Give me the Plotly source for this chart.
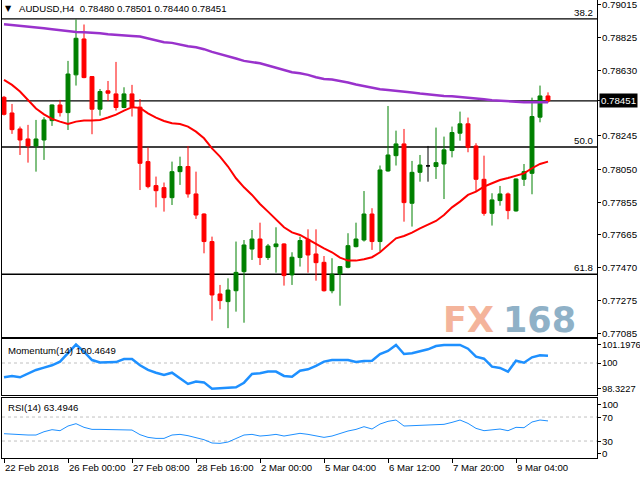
import plotly.graph_objects as go

# ---------------- data ----------------
symbol = "AUDUSD"
timeframe = "H4"

opens = [0.78472, 0.78380, 0.78286, 0.78227, 0.78186, 0.78221, 0.78335, 0.78427, 0.78382, 0.78604,
         0.78815, 0.78594, 0.78402, 0.78510, 0.78492, 0.78412, 0.78492, 0.78414, 0.78094, 0.77953,
         0.77941, 0.77882, 0.78035, 0.78065, 0.77904, 0.77786, 0.77624, 0.77316, 0.77271, 0.77335,
         0.77447, 0.77580, 0.77639, 0.77530, 0.77594, 0.77610, 0.77428, 0.77530, 0.77637, 0.77551,
         0.77502, 0.77335, 0.77434, 0.77473, 0.77594, 0.77633, 0.77786, 0.77624, 0.78039, 0.78129,
         0.78198, 0.77849, 0.78031, 0.78069, 0.78065, 0.78080, 0.78159, 0.78261, 0.78316, 0.78186,
         0.77990, 0.77790, 0.77865, 0.77904, 0.77804, 0.77990, 0.78025, 0.78355, 0.78480]
highs = [0.78480, 0.78433, 0.78300, 0.78310, 0.78339, 0.78355, 0.78430, 0.78457, 0.78686, 0.78930,
         0.78900, 0.78596, 0.78521, 0.78568, 0.78680, 0.78531, 0.78545, 0.78462, 0.78178, 0.78006,
         0.77971, 0.78094, 0.78123, 0.78186, 0.78035, 0.77790, 0.77653, 0.77369, 0.77408, 0.77624,
         0.77633, 0.77692, 0.77735, 0.77610, 0.77708, 0.77614, 0.77561, 0.77653, 0.77696, 0.77696,
         0.77539, 0.77526, 0.77480, 0.77673, 0.77735, 0.77921, 0.77820, 0.78071, 0.78421, 0.78276,
         0.78286, 0.78098, 0.78133, 0.78186, 0.78294, 0.78241, 0.78300, 0.78388, 0.78353, 0.78202,
         0.78129, 0.77908, 0.77951, 0.77912, 0.77995, 0.78080, 0.78470, 0.78541, 0.78501]
lows = [0.78365, 0.78257, 0.78133, 0.78088, 0.78035, 0.78104, 0.78304, 0.78359, 0.78280, 0.78541,
        0.78584, 0.78255, 0.78364, 0.78451, 0.78394, 0.78408, 0.78359, 0.77927, 0.77937, 0.77825,
        0.77800, 0.77839, 0.77957, 0.77882, 0.77757, 0.77555, 0.77159, 0.77226, 0.77115, 0.77212,
        0.77147, 0.77516, 0.77486, 0.77516, 0.77441, 0.77365, 0.77369, 0.77477, 0.77441, 0.77394,
        0.77330, 0.77320, 0.77247, 0.77467, 0.77590, 0.77624, 0.77575, 0.77565, 0.78035, 0.78071,
        0.77741, 0.77712, 0.77976, 0.77976, 0.77992, 0.77874, 0.78119, 0.78217, 0.78149, 0.77918,
        0.77776, 0.77718, 0.77835, 0.77755, 0.77800, 0.77951, 0.77902, 0.78325, 0.78440]
closes = [0.78372, 0.78282, 0.78221, 0.78186, 0.78227, 0.78339, 0.78427, 0.78382, 0.78609, 0.78819,
          0.78588, 0.78402, 0.78506, 0.78496, 0.78412, 0.78492, 0.78414, 0.78084, 0.77947, 0.77923,
          0.77882, 0.78035, 0.78065, 0.77904, 0.77780, 0.77624, 0.77310, 0.77277, 0.77339, 0.77443,
          0.77604, 0.77639, 0.77530, 0.77598, 0.77610, 0.77424, 0.77532, 0.77630, 0.77545, 0.77500,
          0.77335, 0.77432, 0.77477, 0.77600, 0.77639, 0.77786, 0.77624, 0.78045, 0.78133, 0.78198,
          0.77853, 0.78031, 0.78074, 0.78069, 0.78088, 0.78163, 0.78265, 0.78316, 0.78178, 0.77990,
          0.77790, 0.77869, 0.77904, 0.77806, 0.77992, 0.78035, 0.78359, 0.78480, 0.78451]

ma_fast = [0.78574, 0.78545, 0.78506, 0.78457, 0.78406, 0.78372, 0.78345, 0.78329, 0.78315, 0.78329,
           0.78335, 0.78335, 0.78339, 0.78353, 0.78370, 0.78394, 0.78414, 0.78410, 0.78378, 0.78353,
           0.78333, 0.78319, 0.78315, 0.78300, 0.78270, 0.78231, 0.78172, 0.78123, 0.78065, 0.77996,
           0.77943, 0.77898, 0.77845, 0.77800, 0.77755, 0.77708, 0.77678, 0.77663, 0.77637, 0.77610,
           0.77584, 0.77561, 0.77530, 0.77512, 0.77512, 0.77520, 0.77532, 0.77561, 0.77604, 0.77643,
           0.77657, 0.77677, 0.77702, 0.77722, 0.77745, 0.77780, 0.77825, 0.77859, 0.77898, 0.77918,
           0.77947, 0.77967, 0.77986, 0.77998, 0.78012, 0.78025, 0.78055, 0.78080, 0.78094]
ma_slow = [0.78902, 0.78898, 0.78894, 0.78890, 0.78886, 0.78878, 0.78872, 0.78866, 0.78862, 0.78856,
           0.78854, 0.78852, 0.78849, 0.78843, 0.78841, 0.78837, 0.78833, 0.78829, 0.78819, 0.78809,
           0.78796, 0.78792, 0.78780, 0.78772, 0.78766, 0.78755, 0.78739, 0.78727, 0.78711, 0.78700,
           0.78686, 0.78680, 0.78672, 0.78659, 0.78647, 0.78633, 0.78619, 0.78613, 0.78604, 0.78590,
           0.78580, 0.78576, 0.78568, 0.78559, 0.78547, 0.78537, 0.78525, 0.78519, 0.78515, 0.78511,
           0.78506, 0.78500, 0.78494, 0.78488, 0.78484, 0.78480, 0.78478, 0.78474, 0.78472, 0.78466,
           0.78460, 0.78455, 0.78451, 0.78447, 0.78445, 0.78443, 0.78443, 0.78443, 0.78443]

momentum = [99.07, 99.16, 99.07, 99.29, 99.55, 99.70, 99.85, 100.09, 100.67, 101.1976,
            100.74, 100.19, 100.04, 100.04, 100.06, 100.26, 100.26, 99.85, 99.55, 99.37,
            99.22, 99.37, 99.00, 98.64, 98.79, 98.74, 98.3227, 98.36, 98.40, 98.42,
            98.72, 99.29, 99.33, 99.44, 99.44, 99.16, 99.11, 99.50, 99.59, 99.81,
            100.09, 100.19, 100.19, 100.19, 100.06, 100.13, 100.15, 100.58, 100.78, 101.17,
            100.58, 100.63, 100.76, 100.89, 101.10, 101.17, 101.17, 101.17, 100.93, 100.41,
            100.28, 99.76, 99.68, 99.44, 100.15, 100.02, 100.37, 100.50, 100.4649]
rsi = [42.2, 41.1, 40.0, 40.0, 40.0, 45.5, 48.9, 47.2, 55.0, 58.9,
       52.8, 49.4, 49.4, 49.4, 48.3, 49.4, 48.3, 40.6, 36.1, 34.4,
       34.4, 40.0, 41.1, 38.9, 35.6, 32.2, 26.7, 26.1, 28.3, 33.9,
       40.0, 41.1, 38.3, 39.4, 41.1, 38.3, 40.6, 42.8, 41.1, 38.3,
       36.1, 38.3, 42.8, 46.7, 49.4, 53.9, 50.0, 58.3, 62.8, 65.0,
       55.0, 55.6, 57.2, 57.2, 57.8, 57.8, 61.1, 65.0, 59.4, 51.1,
       47.2, 48.9, 50.0, 47.2, 52.8, 52.2, 61.7, 65.0, 63.4946]

fib_levels = [0.78933, 0.78180, 0.77432]
fib_labels = ["38.2", "50.0", "61.8"]
price_line = 0.78451

time_tick_bars = [0, 8, 16, 24, 32, 40, 48, 56, 64]
time_tick_labels = ["22 Feb 2018", "26 Feb 00:00", "27 Feb 08:00", "28 Feb 16:00", "2 Mar 00:00",
                    "5 Mar 04:00", "6 Mar 12:00", "7 Mar 20:00", "9 Mar 04:00"]
price_ticks = [0.79015, 0.78825, 0.78630, 0.78245, 0.78050, 0.77855, 0.77665, 0.77470, 0.77275, 0.77085]
mom_ticks = [101.1976, 100, 98.3227]
mom_tick_labels = ["101.1976", "100", "98.3227"]
rsi_ticks_pos = [91.7, 70, 30, 10]
rsi_ticks_txt = ["100", "70", "30", "0"]

# ---------------- figure ----------------
bars = list(range(len(opens)))
W, H = 640, 480
ML, MR, MT, MB = 2, 43, 0, 22
PW, PH = W - ML - MR, H - MT - MB


def px_x(px):
    return (px - ML) / PW


def px_y(py):
    return (H - MB - py) / PH


GREEN = "#008000"
RED = "#FF0000"
FONT = "Liberation Sans, Arial, sans-serif"
LABEL_SIZE = 9.6

normal = [i for i in bars if opens[i] != closes[i]]
doji = [i for i in bars if opens[i] == closes[i]]

fig = go.Figure()
fig.add_trace(go.Candlestick(
    x=[bars[i] for i in normal], open=[opens[i] for i in normal], high=[highs[i] for i in normal],
    low=[lows[i] for i in normal], close=[closes[i] for i in normal],
    increasing=dict(line=dict(color=GREEN, width=1), fillcolor=GREEN),
    decreasing=dict(line=dict(color=RED, width=1), fillcolor=RED),
    whiskerwidth=0, xaxis="x", yaxis="y", showlegend=False, hoverinfo="skip"))
if doji:
    fig.add_trace(go.Candlestick(
        x=[bars[i] for i in doji], open=[opens[i] for i in doji], high=[highs[i] for i in doji],
        low=[lows[i] for i in doji], close=[closes[i] for i in doji],
        increasing=dict(line=dict(color="black", width=1), fillcolor="black"),
        decreasing=dict(line=dict(color="black", width=1), fillcolor="black"),
        whiskerwidth=0, xaxis="x", yaxis="y", showlegend=False, hoverinfo="skip"))

fig.add_trace(go.Scatter(x=bars, y=ma_slow, mode="lines", line=dict(color="#9932CC", width=2.5),
                         xaxis="x", yaxis="y", showlegend=False, hoverinfo="skip"))
fig.add_trace(go.Scatter(x=bars, y=ma_fast, mode="lines", line=dict(color=RED, width=2),
                         xaxis="x", yaxis="y", showlegend=False, hoverinfo="skip"))
fig.add_trace(go.Scatter(x=bars, y=momentum, mode="lines", line=dict(color="#1E90FF", width=2.5),
                         xaxis="x2", yaxis="y2", showlegend=False, hoverinfo="skip"))
fig.add_trace(go.Scatter(x=bars, y=rsi, mode="lines", line=dict(color="#1E90FF", width=1),
                         xaxis="x3", yaxis="y3", showlegend=False, hoverinfo="skip"))

# horizontal levels
shapes = []
for lv in fib_levels + [price_line]:
    shapes.append(dict(type="line", xref="x domain", yref="y", x0=0, x1=1, y0=lv, y1=lv,
                       line=dict(color="black", width=1.3), layer="below"))
shapes.append(dict(type="line", xref="x2 domain", yref="y2", x0=0, x1=1, y0=100, y1=100,
                   line=dict(color="#C0C0C0", width=1, dash="3px,3px"), layer="below"))
for lv in (70, 30):
    shapes.append(dict(type="line", xref="x3 domain", yref="y3", x0=0, x1=1, y0=lv, y1=lv,
                       line=dict(color="#C0C0C0", width=1, dash="3px,3px"), layer="below"))

annotations = []


def right_label(yref, yval, text, size=9.7):
    annotations.append(dict(xref="paper", yref=yref, x=1.0, y=yval, xshift=3, text=text, showarrow=False,
                            xanchor="left", yanchor="middle",
                            font=dict(family=FONT, size=size, color="black")))


for v in price_ticks:
    right_label("y", v, f"{v:.5f}")
for v, t in zip(mom_ticks, mom_tick_labels):
    right_label("y2", v, t, size=9.3)
for v, t in zip(rsi_ticks_pos, rsi_ticks_txt):
    right_label("y3", v, t)

for lv, lab in zip(fib_levels, fib_labels):
    annotations.append(dict(xref="paper", yref="y", x=px_x(595), y=lv, text=lab, showarrow=False,
                            xanchor="right", yanchor="bottom", yshift=-1,
                            font=dict(family=FONT, size=9.7, color="black")))
# current price box
annotations.append(dict(xref="paper", yref="y", x=1.0, y=closes[-1], xshift=2, text=f"{closes[-1]:.5f}",
                        showarrow=False, xanchor="left", yanchor="middle", bgcolor="black",
                        borderpad=1, font=dict(family=FONT, size=9.7, color="white")))
# header
annotations.append(dict(xref="paper", yref="paper", x=px_x(8), y=px_y(9), text="▼", showarrow=False,
                        xanchor="center", yanchor="middle", font=dict(family="DejaVu Sans", size=8, color="black")))
header = f"{symbol},{timeframe}  {opens[-1]:.5f} {highs[-1]:.5f} {lows[-1]:.5f} {closes[-1]:.5f}"
annotations.append(dict(xref="paper", yref="paper", x=px_x(17), y=px_y(9), text=header, showarrow=False,
                        xanchor="left", yanchor="middle", font=dict(family=FONT, size=LABEL_SIZE, color="black")))
annotations.append(dict(xref="paper", yref="paper", x=px_x(6), y=px_y(350),
                        text=f"Momentum(14) {momentum[-1]:.4f}", showarrow=False,
                        xanchor="left", yanchor="middle", font=dict(family=FONT, size=LABEL_SIZE, color="black")))
annotations.append(dict(xref="paper", yref="paper", x=px_x(6), y=px_y(407),
                        text=f"RSI(14) {rsi[-1]:.4f}", showarrow=False,
                        xanchor="left", yanchor="middle", font=dict(family=FONT, size=LABEL_SIZE, color="black")))
# watermark
annotations.append(dict(xref="paper", yref="paper", x=px_x(468), y=px_y(320), text="FX", showarrow=False,
                        xanchor="center", yanchor="middle",
                        font=dict(family="DejaVu Sans", size=35, weight="bold", color="#F4B49B")))
annotations.append(dict(xref="paper", yref="paper", x=px_x(539), y=px_y(320), text="168", showarrow=False,
                        xanchor="center", yanchor="middle",
                        font=dict(family="DejaVu Sans", size=35, weight="bold", color="#8FB1C7")))

axis_common = dict(showgrid=False, zeroline=False, showline=True, mirror=True, linecolor="black",
                   linewidth=1, automargin=False)
xrange = [-0.25, 74.125]
yaxis_common = dict(side="right", tickmode="array", ticks="outside", ticklen=3, tickcolor="black",
                    showticklabels=False, **axis_common)

fig.update_layout(
    width=W, height=H,
    margin=dict(l=ML, r=MR, t=MT, b=MB, autoexpand=False),
    paper_bgcolor="white", plot_bgcolor="white",
    boxgap=0.3,
    shapes=shapes, annotations=annotations,
    xaxis=dict(domain=[0, 1], anchor="y", range=xrange, showticklabels=False, ticks="",
               rangeslider=dict(visible=False), **axis_common),
    xaxis2=dict(domain=[0, 1], anchor="y2", matches="x", range=xrange, showticklabels=False, ticks="",
                **axis_common),
    xaxis3=dict(domain=[0, 1], anchor="y3", matches="x", range=xrange, tickmode="array",
                tickvals=time_tick_bars, ticktext=time_tick_labels, ticks="outside", ticklen=4,
                tickcolor="black", ticklabelposition="outside right", tickangle=0,
                tickfont=dict(family=FONT, size=LABEL_SIZE, color="black"), **axis_common),
    yaxis=dict(domain=[px_y(337), 1], anchor="x", range=[0.77063, 0.79044],
               tickvals=price_ticks + [price_line], **yaxis_common),
    yaxis2=dict(domain=[px_y(395), px_y(339)], anchor="x2", range=[97.922, 101.558],
                tickvals=mom_ticks, **yaxis_common),
    yaxis3=dict(domain=[0, px_y(398)], anchor="x3", range=[1.7, 101.7],
                tickvals=rsi_ticks_pos, **yaxis_common),
)

fig.write_html("out.html", config={"displayModeBar": False},
               post_script="document.body.style.margin='0px';")
